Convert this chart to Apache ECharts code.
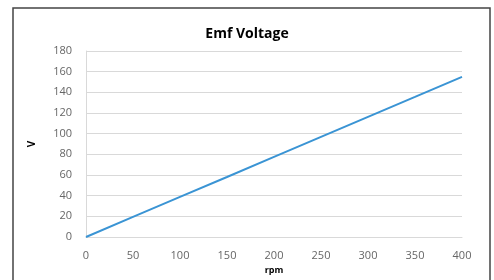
<!DOCTYPE html>
<html><head><meta charset="utf-8">
<script src="https://cdn.jsdelivr.net/npm/echarts@6/dist/echarts.min.js"></script>
<style>html,body{margin:0;padding:0;background:#fff}#c{width:494px;height:280px}</style>
</head><body><div id="c"></div>
<script>
const rpm = [0, 50, 100, 150, 200, 250, 300, 350, 400];
const voltage = [0, 19.4, 38.8, 58.1, 77.5, 96.9, 116.3, 135.6, 155];
const chart = echarts.init(document.getElementById('c'));
const font = '"Open Sans", "Liberation Sans", sans-serif';
chart.setOption({
  animation: false,
  title: {text: 'Emf Voltage', left: 'center', top: 22,
    textStyle: {fontFamily: font, fontSize: 14, fontWeight: 'bold', color: '#000'}},
  graphic: [{type: 'rect', shape: {x: 13, y: 8, width: 477, height: 290},
    style: {fill: 'none', stroke: '#444', lineWidth: 1.5}, silent: true}],
  grid: {left: 86, right: 32, top: 51, bottom: 43},
  xAxis: {type: 'value', min: 0, max: 400, interval: 50,
    name: 'rpm', nameLocation: 'middle', nameGap: 27,
    nameTextStyle: {fontFamily: font, fontSize: 9, fontWeight: 'bold', color: '#000'},
    axisLine: {show: true, lineStyle: {color: '#d9d9d9'}},
    axisTick: {show: false}, splitLine: {show: false},
    axisLabel: {fontFamily: font, fontSize: 11, color: '#666', margin: 13}},
  yAxis: {type: 'value', min: 0, max: 180, interval: 20,
    name: 'V', nameLocation: 'middle', nameGap: 49, nameRotate: 90,
    nameTextStyle: {fontFamily: font, fontSize: 10, fontWeight: 'bold', color: '#000'},
    axisLine: {show: true, lineStyle: {color: '#d9d9d9'}},
    axisTick: {show: false},
    splitLine: {lineStyle: {color: '#d9d9d9'}},
    axisLabel: {fontFamily: font, fontSize: 11, color: '#666', margin: 14}},
  series: [{type: 'line', data: rpm.map((r, i) => [r, voltage[i]]),
    symbol: 'none', lineStyle: {color: '#3a94d4', width: 2}}]
});
</script></body></html>
